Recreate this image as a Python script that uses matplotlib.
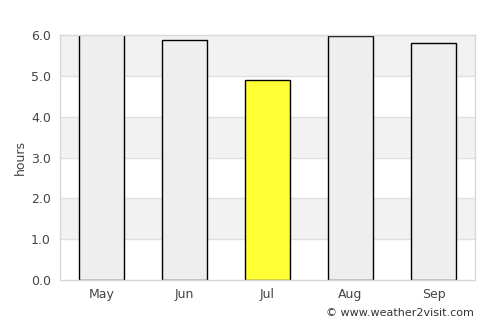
import numpy as np
import matplotlib
matplotlib.use('Agg')
import matplotlib.pyplot as plt

months = ['May', 'Jun', 'Jul', 'Aug', 'Sep']
hours = [6.1, 5.87, 4.89, 5.97, 5.80]
colors = ['#eeeeee', '#eeeeee', '#ffff33', '#eeeeee', '#eeeeee']
yticks = [0.0, 1.0, 2.0, 3.0, 4.0, 5.0, 6.0]

fig = plt.figure(figsize=(5, 3.25), dpi=100)
ax = fig.add_axes([60/500, 1 - 280/325, 415/500, 245/325])

# alternating bands
for i in range(6):
    if i % 2 == 1:
        ax.axhspan(i, i + 1, color='#f2f2f2', zorder=0, lw=0)
for y in yticks[1:-1]:
    ax.axhline(y, color='#e0e0e0', lw=1, zorder=1)

x = np.arange(len(months))
ax.bar(x, hours, width=0.54, color=colors, edgecolor='black', linewidth=1, zorder=2)

ax.set_xlim(-0.5, 4.5)
ax.set_ylim(0, 6)
ax.set_xticks(x)
ax.set_xticklabels(months)
ax.set_yticks(yticks)
ax.set_yticklabels(['%.1f' % v for v in yticks])
ax.tick_params(length=0, labelsize=9, colors='#444444')
ax.tick_params(axis='y', pad=6.5)
ax.tick_params(axis='x', pad=6)
for s in ax.spines.values():
    s.set_color('#d8d8d8')
    s.set_linewidth(1)
ax.set_ylabel('hours', fontsize=9, color='#444444', labelpad=3)

fig.text(474/500, 1 - 316/325, '\u00a9 www.weather2visit.com', ha='right', va='baseline',
         fontsize=8, color='#333333')

fig.savefig('out.png', dpi=100)
